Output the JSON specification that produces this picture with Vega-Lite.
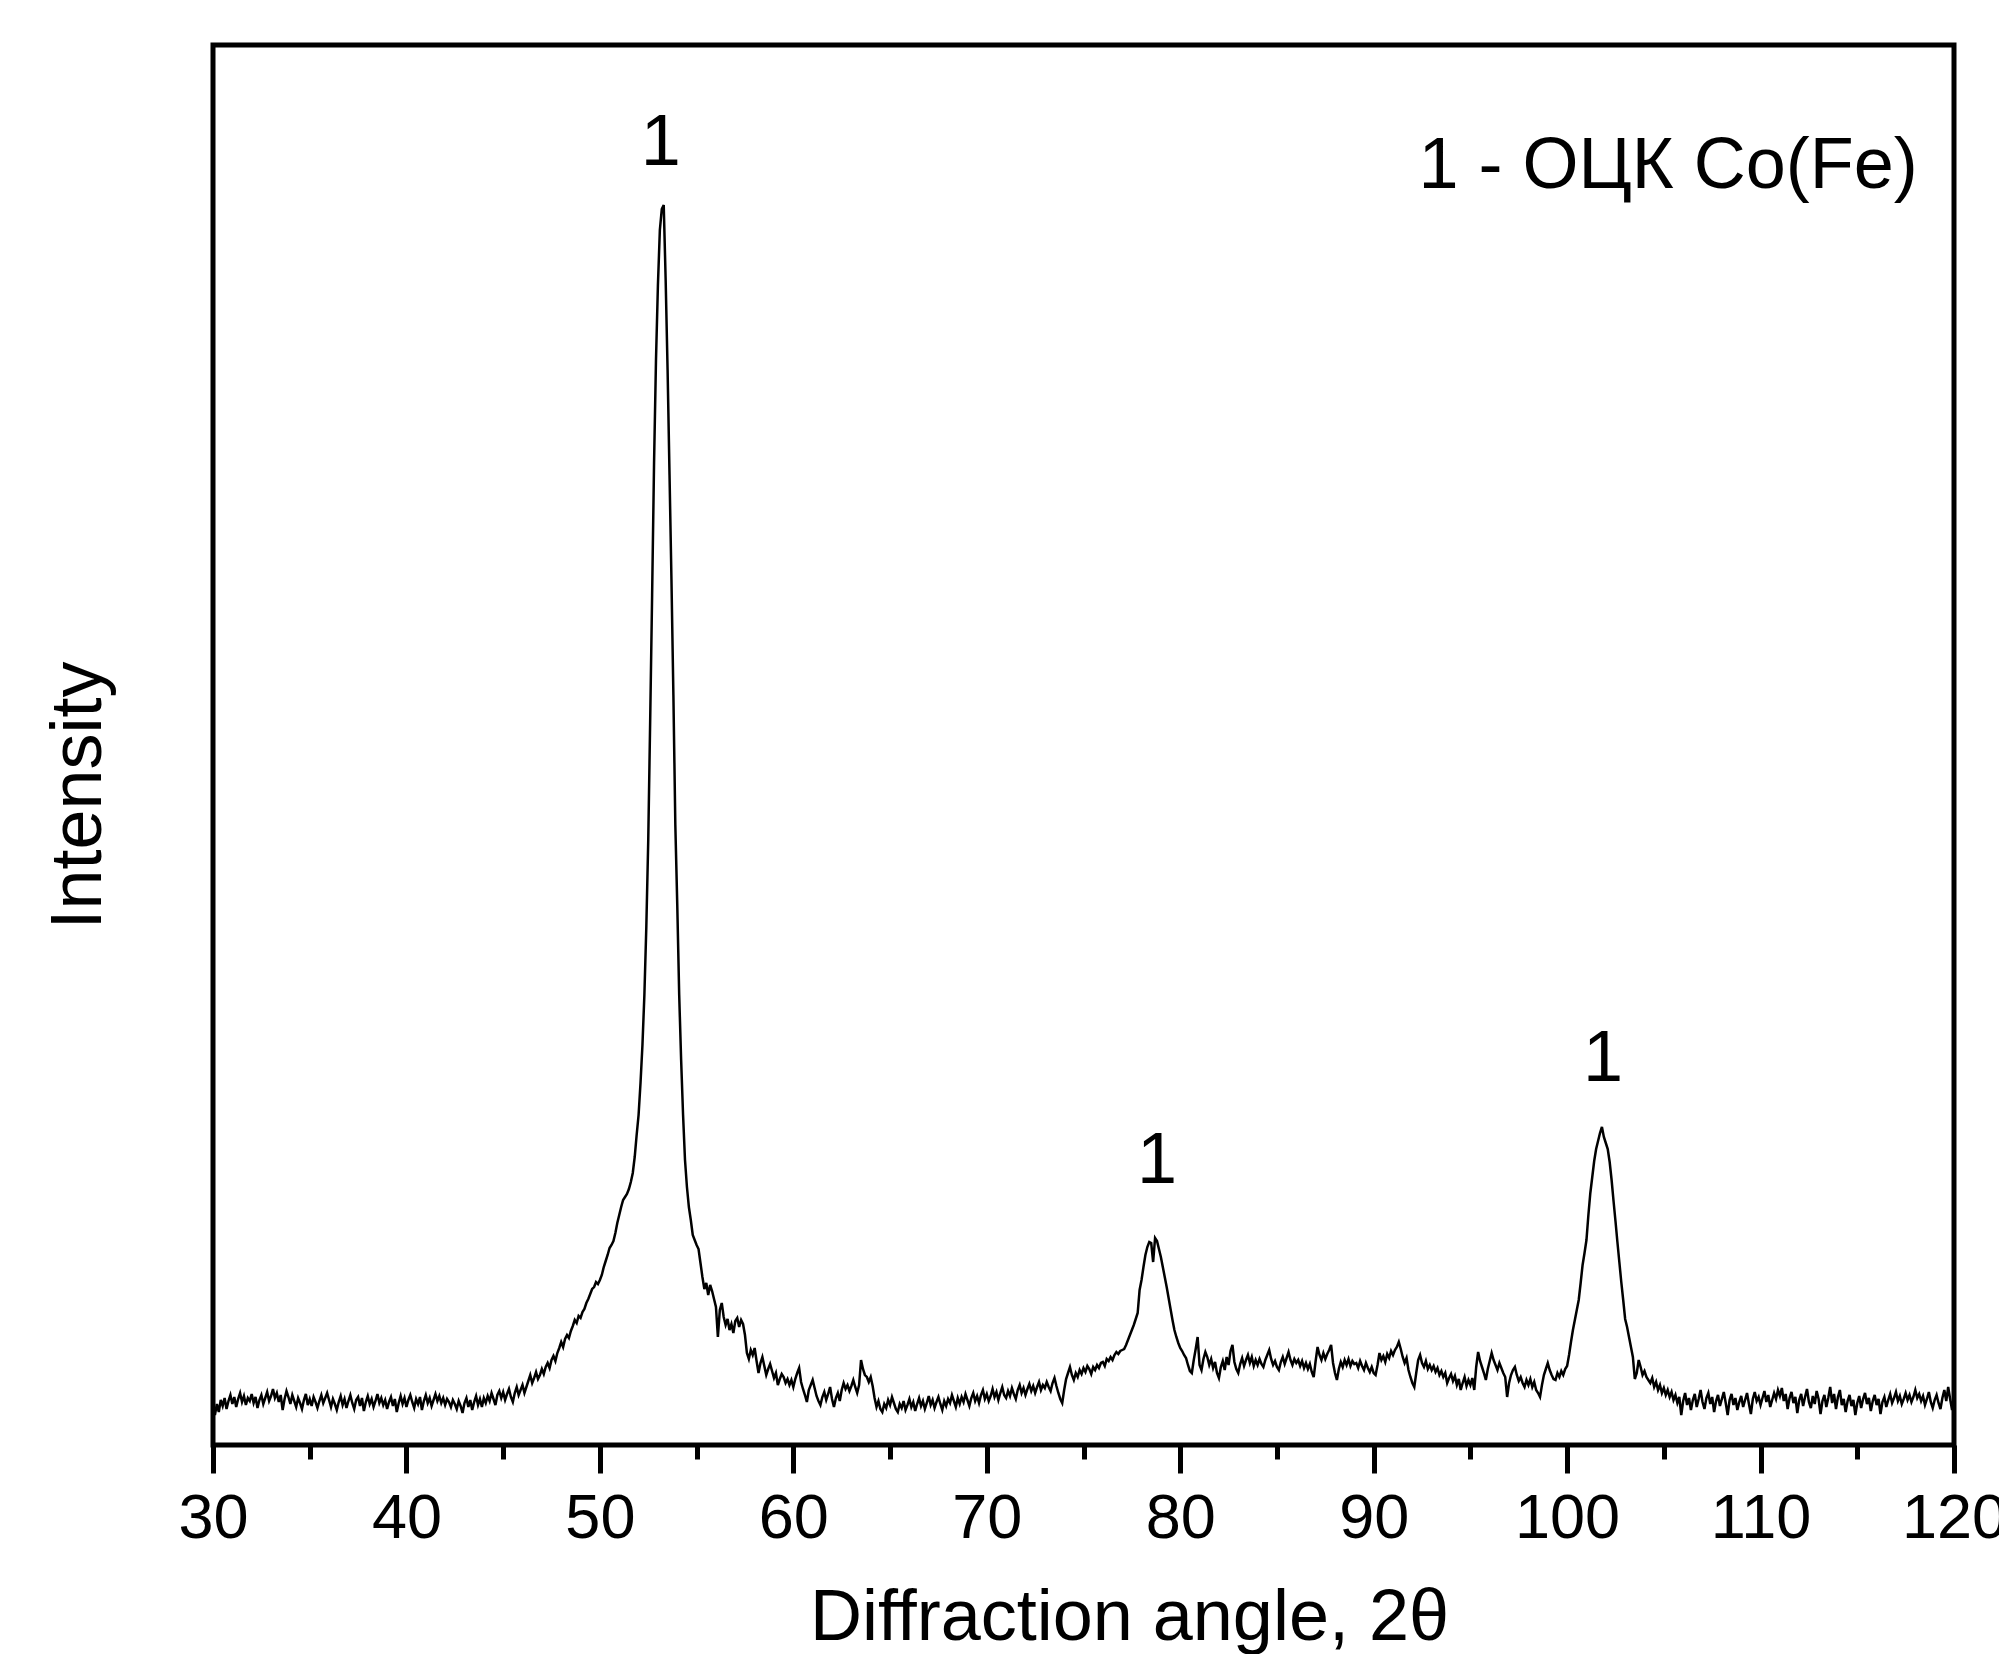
{
"$schema":"https://vega.github.io/schema/vega-lite/v6.json",
"width":1741,"height":1400,
"autosize":{"type":"none"},
"padding":{"left":213,"top":45,"right":45,"bottom":209},
"background":"white",
"config":{"view":{"stroke":"black","strokeWidth":5},"font":"Liberation Sans"},
"datasets":{
"pattern":[
{"angle":30.0,"intensity":37},{"angle":30.1,"intensity":30},{"angle":30.2,"intensity":41},{"angle":30.3,"intensity":33},{"angle":30.4,"intensity":45},{"angle":30.5,"intensity":39},{"angle":30.6,"intensity":47},{"angle":30.7,"intensity":36},{"angle":30.8,"intensity":44},{"angle":30.9,"intensity":50},
{"angle":31.0,"intensity":41},{"angle":31.1,"intensity":48},{"angle":31.2,"intensity":38},{"angle":31.3,"intensity":46},{"angle":31.4,"intensity":52},{"angle":31.5,"intensity":43},{"angle":31.6,"intensity":49},{"angle":31.7,"intensity":40},{"angle":31.8,"intensity":47},{"angle":31.9,"intensity":44},
{"angle":32.0,"intensity":51},{"angle":32.1,"intensity":42},{"angle":32.2,"intensity":48},{"angle":32.3,"intensity":37},{"angle":32.4,"intensity":45},{"angle":32.5,"intensity":50},{"angle":32.6,"intensity":41},{"angle":32.7,"intensity":47},{"angle":32.8,"intensity":53},{"angle":32.9,"intensity":44},
{"angle":33.0,"intensity":49},{"angle":33.1,"intensity":56},{"angle":33.2,"intensity":47},{"angle":33.3,"intensity":52},{"angle":33.4,"intensity":43},{"angle":33.5,"intensity":50},{"angle":33.6,"intensity":35},{"angle":33.7,"intensity":46},{"angle":33.8,"intensity":54},{"angle":33.9,"intensity":48},
{"angle":34.0,"intensity":41},{"angle":34.1,"intensity":50},{"angle":34.2,"intensity":44},{"angle":34.3,"intensity":38},{"angle":34.4,"intensity":47},{"angle":34.5,"intensity":42},{"angle":34.6,"intensity":36},{"angle":34.7,"intensity":45},{"angle":34.8,"intensity":51},{"angle":34.9,"intensity":40},
{"angle":35.0,"intensity":46},{"angle":35.1,"intensity":39},{"angle":35.2,"intensity":48},{"angle":35.3,"intensity":43},{"angle":35.4,"intensity":37},{"angle":35.5,"intensity":44},{"angle":35.6,"intensity":50},{"angle":35.7,"intensity":42},{"angle":35.8,"intensity":47},{"angle":35.9,"intensity":52},
{"angle":36.0,"intensity":45},{"angle":36.1,"intensity":38},{"angle":36.2,"intensity":46},{"angle":36.3,"intensity":41},{"angle":36.4,"intensity":35},{"angle":36.5,"intensity":43},{"angle":36.6,"intensity":49},{"angle":36.7,"intensity":40},{"angle":36.8,"intensity":46},{"angle":36.9,"intensity":37},
{"angle":37.0,"intensity":44},{"angle":37.1,"intensity":50},{"angle":37.2,"intensity":42},{"angle":37.3,"intensity":36},{"angle":37.4,"intensity":45},{"angle":37.5,"intensity":48},{"angle":37.6,"intensity":39},{"angle":37.7,"intensity":47},{"angle":37.8,"intensity":34},{"angle":37.9,"intensity":43},
{"angle":38.0,"intensity":49},{"angle":38.1,"intensity":41},{"angle":38.2,"intensity":46},{"angle":38.3,"intensity":38},{"angle":38.4,"intensity":44},{"angle":38.5,"intensity":51},{"angle":38.6,"intensity":42},{"angle":38.7,"intensity":47},{"angle":38.8,"intensity":40},{"angle":38.9,"intensity":45},
{"angle":39.0,"intensity":36},{"angle":39.1,"intensity":43},{"angle":39.2,"intensity":48},{"angle":39.3,"intensity":39},{"angle":39.4,"intensity":46},{"angle":39.5,"intensity":33},{"angle":39.6,"intensity":42},{"angle":39.7,"intensity":49},{"angle":39.8,"intensity":41},{"angle":39.9,"intensity":47},
{"angle":40.0,"intensity":38},{"angle":40.1,"intensity":45},{"angle":40.2,"intensity":50},{"angle":40.3,"intensity":43},{"angle":40.4,"intensity":37},{"angle":40.5,"intensity":46},{"angle":40.6,"intensity":41},{"angle":40.7,"intensity":48},{"angle":40.8,"intensity":35},{"angle":40.9,"intensity":44},
{"angle":41.0,"intensity":50},{"angle":41.1,"intensity":42},{"angle":41.2,"intensity":47},{"angle":41.3,"intensity":39},{"angle":41.4,"intensity":45},{"angle":41.5,"intensity":51},{"angle":41.6,"intensity":44},{"angle":41.7,"intensity":49},{"angle":41.8,"intensity":42},{"angle":41.9,"intensity":47},
{"angle":42.0,"intensity":40},{"angle":42.1,"intensity":46},{"angle":42.2,"intensity":43},{"angle":42.3,"intensity":38},{"angle":42.4,"intensity":45},{"angle":42.5,"intensity":41},{"angle":42.6,"intensity":36},{"angle":42.7,"intensity":44},{"angle":42.8,"intensity":39},{"angle":42.9,"intensity":32},
{"angle":43.0,"intensity":42},{"angle":43.1,"intensity":47},{"angle":43.2,"intensity":38},{"angle":43.3,"intensity":45},{"angle":43.4,"intensity":35},{"angle":43.5,"intensity":43},{"angle":43.6,"intensity":49},{"angle":43.7,"intensity":40},{"angle":43.8,"intensity":46},{"angle":43.9,"intensity":38},
{"angle":44.0,"intensity":47},{"angle":44.1,"intensity":42},{"angle":44.2,"intensity":49},{"angle":44.3,"intensity":44},{"angle":44.4,"intensity":52},{"angle":44.5,"intensity":46},{"angle":44.6,"intensity":40},{"angle":44.7,"intensity":50},{"angle":44.8,"intensity":54},{"angle":44.9,"intensity":47},
{"angle":45.0,"intensity":53},{"angle":45.1,"intensity":45},{"angle":45.2,"intensity":51},{"angle":45.3,"intensity":56},{"angle":45.4,"intensity":48},{"angle":45.5,"intensity":43},{"angle":45.6,"intensity":52},{"angle":45.7,"intensity":58},{"angle":45.8,"intensity":50},{"angle":45.9,"intensity":55},
{"angle":46.0,"intensity":60},{"angle":46.1,"intensity":52},{"angle":46.2,"intensity":58},{"angle":46.3,"intensity":64},{"angle":46.4,"intensity":70},{"angle":46.5,"intensity":62},{"angle":46.6,"intensity":67},{"angle":46.7,"intensity":73},{"angle":46.8,"intensity":66},{"angle":46.9,"intensity":70},
{"angle":47.0,"intensity":76},{"angle":47.1,"intensity":71},{"angle":47.2,"intensity":78},{"angle":47.3,"intensity":82},{"angle":47.4,"intensity":77},{"angle":47.5,"intensity":85},{"angle":47.6,"intensity":89},{"angle":47.7,"intensity":84},{"angle":47.8,"intensity":92},{"angle":47.9,"intensity":97},
{"angle":48.0,"intensity":103},{"angle":48.1,"intensity":98},{"angle":48.2,"intensity":106},{"angle":48.3,"intensity":110},{"angle":48.4,"intensity":107},{"angle":48.5,"intensity":114},{"angle":48.6,"intensity":119},{"angle":48.7,"intensity":125},{"angle":48.8,"intensity":122},{"angle":48.9,"intensity":129},
{"angle":49.0,"intensity":127},{"angle":49.1,"intensity":133},{"angle":49.2,"intensity":136},{"angle":49.3,"intensity":142},{"angle":49.4,"intensity":146},{"angle":49.5,"intensity":151},{"angle":49.6,"intensity":156},{"angle":49.7,"intensity":158},{"angle":49.8,"intensity":163},{"angle":49.9,"intensity":161},
{"angle":50.0,"intensity":165},{"angle":50.1,"intensity":170},{"angle":50.2,"intensity":178},{"angle":50.3,"intensity":184},{"angle":50.4,"intensity":190},{"angle":50.5,"intensity":197},{"angle":50.6,"intensity":200},{"angle":50.7,"intensity":204},{"angle":50.8,"intensity":212},{"angle":50.9,"intensity":222},
{"angle":51.0,"intensity":230},{"angle":51.1,"intensity":238},{"angle":51.2,"intensity":245},{"angle":51.3,"intensity":248},{"angle":51.4,"intensity":251},{"angle":51.5,"intensity":256},{"angle":51.6,"intensity":263},{"angle":51.7,"intensity":272},{"angle":51.8,"intensity":288},{"angle":51.9,"intensity":310},
{"angle":52.0,"intensity":330},{"angle":52.1,"intensity":362},{"angle":52.2,"intensity":400},{"angle":52.3,"intensity":450},{"angle":52.4,"intensity":518},{"angle":52.5,"intensity":605},{"angle":52.6,"intensity":725},{"angle":52.7,"intensity":850},{"angle":52.8,"intensity":982},{"angle":52.9,"intensity":1085},
{"angle":53.0,"intensity":1160},{"angle":53.1,"intensity":1215},{"angle":53.2,"intensity":1236},{"angle":53.3,"intensity":1240},{"angle":53.4,"intensity":1165},{"angle":53.5,"intensity":1075},{"angle":53.6,"intensity":970},{"angle":53.7,"intensity":865},{"angle":53.8,"intensity":750},{"angle":53.9,"intensity":620},
{"angle":54.0,"intensity":540},{"angle":54.1,"intensity":450},{"angle":54.2,"intensity":385},{"angle":54.3,"intensity":330},{"angle":54.4,"intensity":285},{"angle":54.5,"intensity":258},{"angle":54.6,"intensity":238},{"angle":54.7,"intensity":225},{"angle":54.8,"intensity":210},{"angle":54.9,"intensity":205},
{"angle":55.0,"intensity":200},{"angle":55.1,"intensity":196},{"angle":55.2,"intensity":182},{"angle":55.3,"intensity":168},{"angle":55.4,"intensity":156},{"angle":55.5,"intensity":162},{"angle":55.6,"intensity":150},{"angle":55.7,"intensity":160},{"angle":55.8,"intensity":154},{"angle":55.9,"intensity":146},
{"angle":56.0,"intensity":138},{"angle":56.1,"intensity":108},{"angle":56.2,"intensity":135},{"angle":56.3,"intensity":142},{"angle":56.4,"intensity":128},{"angle":56.5,"intensity":120},{"angle":56.6,"intensity":126},{"angle":56.7,"intensity":115},{"angle":56.8,"intensity":121},{"angle":56.9,"intensity":112},
{"angle":57.0,"intensity":124},{"angle":57.1,"intensity":127},{"angle":57.2,"intensity":118},{"angle":57.3,"intensity":125},{"angle":57.4,"intensity":121},{"angle":57.5,"intensity":110},{"angle":57.6,"intensity":92},{"angle":57.7,"intensity":86},{"angle":57.8,"intensity":95},{"angle":57.9,"intensity":90},
{"angle":58.0,"intensity":97},{"angle":58.1,"intensity":84},{"angle":58.2,"intensity":72},{"angle":58.3,"intensity":82},{"angle":58.4,"intensity":88},{"angle":58.5,"intensity":79},{"angle":58.6,"intensity":70},{"angle":58.7,"intensity":76},{"angle":58.8,"intensity":81},{"angle":58.9,"intensity":74},
{"angle":59.0,"intensity":67},{"angle":59.1,"intensity":72},{"angle":59.2,"intensity":60},{"angle":59.3,"intensity":66},{"angle":59.4,"intensity":71},{"angle":59.5,"intensity":68},{"angle":59.6,"intensity":62},{"angle":59.7,"intensity":66},{"angle":59.8,"intensity":60},{"angle":59.9,"intensity":65},
{"angle":60.0,"intensity":58},{"angle":60.1,"intensity":66},{"angle":60.2,"intensity":72},{"angle":60.3,"intensity":77},{"angle":60.4,"intensity":63},{"angle":60.5,"intensity":56},{"angle":60.6,"intensity":50},{"angle":60.7,"intensity":43},{"angle":60.8,"intensity":55},{"angle":60.9,"intensity":60},
{"angle":61.0,"intensity":65},{"angle":61.1,"intensity":57},{"angle":61.2,"intensity":49},{"angle":61.3,"intensity":44},{"angle":61.4,"intensity":40},{"angle":61.5,"intensity":48},{"angle":61.6,"intensity":53},{"angle":61.7,"intensity":45},{"angle":61.8,"intensity":51},{"angle":61.9,"intensity":58},
{"angle":62.0,"intensity":46},{"angle":62.1,"intensity":38},{"angle":62.2,"intensity":47},{"angle":62.3,"intensity":52},{"angle":62.4,"intensity":44},{"angle":62.5,"intensity":55},{"angle":62.6,"intensity":62},{"angle":62.7,"intensity":56},{"angle":62.8,"intensity":60},{"angle":62.9,"intensity":54},
{"angle":63.0,"intensity":59},{"angle":63.1,"intensity":65},{"angle":63.2,"intensity":58},{"angle":63.3,"intensity":52},{"angle":63.4,"intensity":60},{"angle":63.5,"intensity":85},{"angle":63.6,"intensity":76},{"angle":63.7,"intensity":70},{"angle":63.8,"intensity":68},{"angle":63.9,"intensity":63},
{"angle":64.0,"intensity":68},{"angle":64.1,"intensity":59},{"angle":64.2,"intensity":47},{"angle":64.3,"intensity":38},{"angle":64.4,"intensity":44},{"angle":64.5,"intensity":36},{"angle":64.6,"intensity":33},{"angle":64.7,"intensity":41},{"angle":64.8,"intensity":37},{"angle":64.9,"intensity":45},
{"angle":65.0,"intensity":40},{"angle":65.1,"intensity":48},{"angle":65.2,"intensity":42},{"angle":65.3,"intensity":36},{"angle":65.4,"intensity":33},{"angle":65.5,"intensity":41},{"angle":65.6,"intensity":37},{"angle":65.7,"intensity":44},{"angle":65.8,"intensity":35},{"angle":65.9,"intensity":40},
{"angle":66.0,"intensity":46},{"angle":66.1,"intensity":38},{"angle":66.2,"intensity":43},{"angle":66.3,"intensity":34},{"angle":66.4,"intensity":41},{"angle":66.5,"intensity":47},{"angle":66.6,"intensity":39},{"angle":66.7,"intensity":44},{"angle":66.8,"intensity":36},{"angle":66.9,"intensity":42},
{"angle":67.0,"intensity":49},{"angle":67.1,"intensity":40},{"angle":67.2,"intensity":45},{"angle":67.3,"intensity":37},{"angle":67.4,"intensity":43},{"angle":67.5,"intensity":48},{"angle":67.6,"intensity":41},{"angle":67.7,"intensity":35},{"angle":67.8,"intensity":44},{"angle":67.9,"intensity":39},
{"angle":68.0,"intensity":46},{"angle":68.1,"intensity":42},{"angle":68.2,"intensity":50},{"angle":68.3,"intensity":44},{"angle":68.4,"intensity":38},{"angle":68.5,"intensity":47},{"angle":68.6,"intensity":41},{"angle":68.7,"intensity":48},{"angle":68.8,"intensity":43},{"angle":68.9,"intensity":51},
{"angle":69.0,"intensity":45},{"angle":69.1,"intensity":39},{"angle":69.2,"intensity":47},{"angle":69.3,"intensity":52},{"angle":69.4,"intensity":44},{"angle":69.5,"intensity":49},{"angle":69.6,"intensity":42},{"angle":69.7,"intensity":50},{"angle":69.8,"intensity":55},{"angle":69.9,"intensity":46},
{"angle":70.0,"intensity":51},{"angle":70.1,"intensity":44},{"angle":70.2,"intensity":49},{"angle":70.3,"intensity":56},{"angle":70.4,"intensity":48},{"angle":70.5,"intensity":53},{"angle":70.6,"intensity":45},{"angle":70.7,"intensity":52},{"angle":70.8,"intensity":58},{"angle":70.9,"intensity":50},
{"angle":71.0,"intensity":47},{"angle":71.1,"intensity":54},{"angle":71.2,"intensity":49},{"angle":71.3,"intensity":57},{"angle":71.4,"intensity":51},{"angle":71.5,"intensity":46},{"angle":71.6,"intensity":55},{"angle":71.7,"intensity":60},{"angle":71.8,"intensity":52},{"angle":71.9,"intensity":57},
{"angle":72.0,"intensity":50},{"angle":72.1,"intensity":56},{"angle":72.2,"intensity":61},{"angle":72.3,"intensity":54},{"angle":72.4,"intensity":59},{"angle":72.5,"intensity":52},{"angle":72.6,"intensity":58},{"angle":72.7,"intensity":63},{"angle":72.8,"intensity":55},{"angle":72.9,"intensity":60},
{"angle":73.0,"intensity":57},{"angle":73.1,"intensity":63},{"angle":73.2,"intensity":58},{"angle":73.3,"intensity":54},{"angle":73.4,"intensity":62},{"angle":73.5,"intensity":67},{"angle":73.6,"intensity":59},{"angle":73.7,"intensity":52},{"angle":73.8,"intensity":46},{"angle":73.9,"intensity":42},
{"angle":74.0,"intensity":55},{"angle":74.1,"intensity":66},{"angle":74.2,"intensity":72},{"angle":74.3,"intensity":78},{"angle":74.4,"intensity":70},{"angle":74.5,"intensity":65},{"angle":74.6,"intensity":72},{"angle":74.7,"intensity":68},{"angle":74.8,"intensity":75},{"angle":74.9,"intensity":71},
{"angle":75.0,"intensity":77},{"angle":75.1,"intensity":73},{"angle":75.2,"intensity":79},{"angle":75.3,"intensity":76},{"angle":75.4,"intensity":71},{"angle":75.5,"intensity":78},{"angle":75.6,"intensity":75},{"angle":75.7,"intensity":80},{"angle":75.8,"intensity":77},{"angle":75.9,"intensity":82},
{"angle":76.0,"intensity":83},{"angle":76.1,"intensity":79},{"angle":76.2,"intensity":86},{"angle":76.3,"intensity":84},{"angle":76.4,"intensity":88},{"angle":76.5,"intensity":85},{"angle":76.6,"intensity":90},{"angle":76.7,"intensity":93},{"angle":76.8,"intensity":91},{"angle":76.9,"intensity":94},
{"angle":77.0,"intensity":95},{"angle":77.1,"intensity":96},{"angle":77.2,"intensity":100},{"angle":77.3,"intensity":105},{"angle":77.4,"intensity":110},{"angle":77.5,"intensity":115},{"angle":77.6,"intensity":120},{"angle":77.7,"intensity":126},{"angle":77.8,"intensity":132},{"angle":77.9,"intensity":155},
{"angle":78.0,"intensity":165},{"angle":78.1,"intensity":178},{"angle":78.2,"intensity":190},{"angle":78.3,"intensity":198},{"angle":78.4,"intensity":203},{"angle":78.5,"intensity":202},{"angle":78.6,"intensity":183},{"angle":78.7,"intensity":207},{"angle":78.8,"intensity":204},{"angle":78.9,"intensity":196},
{"angle":79.0,"intensity":188},{"angle":79.1,"intensity":178},{"angle":79.2,"intensity":168},{"angle":79.3,"intensity":158},{"angle":79.4,"intensity":147},{"angle":79.5,"intensity":136},{"angle":79.6,"intensity":125},{"angle":79.7,"intensity":115},{"angle":79.8,"intensity":108},{"angle":79.9,"intensity":102},
{"angle":80.0,"intensity":97},{"angle":80.1,"intensity":94},{"angle":80.2,"intensity":90},{"angle":80.3,"intensity":87},{"angle":80.4,"intensity":80},{"angle":80.5,"intensity":74},{"angle":80.6,"intensity":72},{"angle":80.7,"intensity":85},{"angle":80.8,"intensity":96},{"angle":80.9,"intensity":108},
{"angle":81.0,"intensity":80},{"angle":81.1,"intensity":75},{"angle":81.2,"intensity":86},{"angle":81.3,"intensity":93},{"angle":81.4,"intensity":88},{"angle":81.5,"intensity":80},{"angle":81.6,"intensity":86},{"angle":81.7,"intensity":77},{"angle":81.8,"intensity":83},{"angle":81.9,"intensity":72},
{"angle":82.0,"intensity":67},{"angle":82.1,"intensity":78},{"angle":82.2,"intensity":84},{"angle":82.3,"intensity":75},{"angle":82.4,"intensity":88},{"angle":82.5,"intensity":80},{"angle":82.6,"intensity":94},{"angle":82.7,"intensity":100},{"angle":82.8,"intensity":83},{"angle":82.9,"intensity":76},
{"angle":83.0,"intensity":72},{"angle":83.1,"intensity":81},{"angle":83.2,"intensity":87},{"angle":83.3,"intensity":79},{"angle":83.4,"intensity":85},{"angle":83.5,"intensity":90},{"angle":83.6,"intensity":82},{"angle":83.7,"intensity":88},{"angle":83.8,"intensity":79},{"angle":83.9,"intensity":85},
{"angle":84.0,"intensity":80},{"angle":84.1,"intensity":86},{"angle":84.2,"intensity":81},{"angle":84.3,"intensity":78},{"angle":84.4,"intensity":85},{"angle":84.5,"intensity":90},{"angle":84.6,"intensity":95},{"angle":84.7,"intensity":86},{"angle":84.8,"intensity":80},{"angle":84.9,"intensity":84},
{"angle":85.0,"intensity":78},{"angle":85.1,"intensity":75},{"angle":85.2,"intensity":83},{"angle":85.3,"intensity":88},{"angle":85.4,"intensity":81},{"angle":85.5,"intensity":87},{"angle":85.6,"intensity":93},{"angle":85.7,"intensity":85},{"angle":85.8,"intensity":80},{"angle":85.9,"intensity":86},
{"angle":86.0,"intensity":82},{"angle":86.1,"intensity":85},{"angle":86.2,"intensity":79},{"angle":86.3,"intensity":84},{"angle":86.4,"intensity":77},{"angle":86.5,"intensity":82},{"angle":86.6,"intensity":76},{"angle":86.7,"intensity":81},{"angle":86.8,"intensity":73},{"angle":86.9,"intensity":68},
{"angle":87.0,"intensity":84},{"angle":87.1,"intensity":98},{"angle":87.2,"intensity":90},{"angle":87.3,"intensity":85},{"angle":87.4,"intensity":92},{"angle":87.5,"intensity":86},{"angle":87.6,"intensity":91},{"angle":87.7,"intensity":95},{"angle":87.8,"intensity":100},{"angle":87.9,"intensity":82},
{"angle":88.0,"intensity":72},{"angle":88.1,"intensity":65},{"angle":88.2,"intensity":76},{"angle":88.3,"intensity":83},{"angle":88.4,"intensity":78},{"angle":88.5,"intensity":85},{"angle":88.6,"intensity":80},{"angle":88.7,"intensity":86},{"angle":88.8,"intensity":79},{"angle":88.9,"intensity":84},
{"angle":89.0,"intensity":81},{"angle":89.1,"intensity":82},{"angle":89.2,"intensity":77},{"angle":89.3,"intensity":84},{"angle":89.4,"intensity":79},{"angle":89.5,"intensity":75},{"angle":89.6,"intensity":82},{"angle":89.7,"intensity":77},{"angle":89.8,"intensity":73},{"angle":89.9,"intensity":78},
{"angle":90.0,"intensity":72},{"angle":90.1,"intensity":70},{"angle":90.2,"intensity":80},{"angle":90.3,"intensity":92},{"angle":90.4,"intensity":85},{"angle":90.5,"intensity":89},{"angle":90.6,"intensity":83},{"angle":90.7,"intensity":91},{"angle":90.8,"intensity":87},{"angle":90.9,"intensity":94},
{"angle":91.0,"intensity":90},{"angle":91.1,"intensity":95},{"angle":91.2,"intensity":98},{"angle":91.3,"intensity":103},{"angle":91.4,"intensity":96},{"angle":91.5,"intensity":88},{"angle":91.6,"intensity":82},{"angle":91.7,"intensity":87},{"angle":91.8,"intensity":75},{"angle":91.9,"intensity":68},
{"angle":92.0,"intensity":62},{"angle":92.1,"intensity":58},{"angle":92.2,"intensity":72},{"angle":92.3,"intensity":85},{"angle":92.4,"intensity":90},{"angle":92.5,"intensity":82},{"angle":92.6,"intensity":78},{"angle":92.7,"intensity":84},{"angle":92.8,"intensity":76},{"angle":92.9,"intensity":80},
{"angle":93.0,"intensity":75},{"angle":93.1,"intensity":79},{"angle":93.2,"intensity":73},{"angle":93.3,"intensity":77},{"angle":93.4,"intensity":70},{"angle":93.5,"intensity":74},{"angle":93.6,"intensity":68},{"angle":93.7,"intensity":72},{"angle":93.8,"intensity":62},{"angle":93.9,"intensity":67},
{"angle":94.0,"intensity":71},{"angle":94.1,"intensity":64},{"angle":94.2,"intensity":69},{"angle":94.3,"intensity":60},{"angle":94.4,"intensity":66},{"angle":94.5,"intensity":55},{"angle":94.6,"intensity":62},{"angle":94.7,"intensity":68},{"angle":94.8,"intensity":59},{"angle":94.9,"intensity":65},
{"angle":95.0,"intensity":60},{"angle":95.1,"intensity":67},{"angle":95.2,"intensity":55},{"angle":95.3,"intensity":78},{"angle":95.4,"intensity":93},{"angle":95.5,"intensity":84},{"angle":95.6,"intensity":78},{"angle":95.7,"intensity":72},{"angle":95.8,"intensity":65},{"angle":95.9,"intensity":76},
{"angle":96.0,"intensity":84},{"angle":96.1,"intensity":92},{"angle":96.2,"intensity":85},{"angle":96.3,"intensity":80},{"angle":96.4,"intensity":75},{"angle":96.5,"intensity":82},{"angle":96.6,"intensity":77},{"angle":96.7,"intensity":72},{"angle":96.8,"intensity":68},{"angle":96.9,"intensity":48},
{"angle":97.0,"intensity":62},{"angle":97.1,"intensity":70},{"angle":97.2,"intensity":75},{"angle":97.3,"intensity":78},{"angle":97.4,"intensity":70},{"angle":97.5,"intensity":64},{"angle":97.6,"intensity":68},{"angle":97.7,"intensity":62},{"angle":97.8,"intensity":58},{"angle":97.9,"intensity":65},
{"angle":98.0,"intensity":60},{"angle":98.1,"intensity":66},{"angle":98.2,"intensity":58},{"angle":98.3,"intensity":63},{"angle":98.4,"intensity":55},{"angle":98.5,"intensity":52},{"angle":98.6,"intensity":48},{"angle":98.7,"intensity":60},{"angle":98.8,"intensity":70},{"angle":98.9,"intensity":76},
{"angle":99.0,"intensity":82},{"angle":99.1,"intensity":75},{"angle":99.2,"intensity":70},{"angle":99.3,"intensity":66},{"angle":99.4,"intensity":65},{"angle":99.5,"intensity":72},{"angle":99.6,"intensity":68},{"angle":99.7,"intensity":74},{"angle":99.8,"intensity":70},{"angle":99.9,"intensity":76},
{"angle":100.0,"intensity":79},{"angle":100.1,"intensity":90},{"angle":100.2,"intensity":103},{"angle":100.3,"intensity":115},{"angle":100.4,"intensity":125},{"angle":100.5,"intensity":135},{"angle":100.6,"intensity":145},{"angle":100.7,"intensity":162},{"angle":100.8,"intensity":180},{"angle":100.9,"intensity":192},
{"angle":101.0,"intensity":205},{"angle":101.1,"intensity":230},{"angle":101.2,"intensity":252},{"angle":101.3,"intensity":268},{"angle":101.4,"intensity":284},{"angle":101.5,"intensity":296},{"angle":101.6,"intensity":304},{"angle":101.7,"intensity":312},{"angle":101.8,"intensity":318},{"angle":101.9,"intensity":308},
{"angle":102.0,"intensity":302},{"angle":102.1,"intensity":296},{"angle":102.2,"intensity":283},{"angle":102.3,"intensity":265},{"angle":102.4,"intensity":244},{"angle":102.5,"intensity":224},{"angle":102.6,"intensity":203},{"angle":102.7,"intensity":183},{"angle":102.8,"intensity":163},{"angle":102.9,"intensity":145},
{"angle":103.0,"intensity":126},{"angle":103.1,"intensity":118},{"angle":103.2,"intensity":108},{"angle":103.3,"intensity":98},{"angle":103.4,"intensity":88},{"angle":103.5,"intensity":66},{"angle":103.6,"intensity":72},{"angle":103.7,"intensity":85},{"angle":103.8,"intensity":78},{"angle":103.9,"intensity":70},
{"angle":104.0,"intensity":74},{"angle":104.1,"intensity":68},{"angle":104.2,"intensity":65},{"angle":104.3,"intensity":62},{"angle":104.4,"intensity":67},{"angle":104.5,"intensity":58},{"angle":104.6,"intensity":63},{"angle":104.7,"intensity":55},{"angle":104.8,"intensity":60},{"angle":104.9,"intensity":52},
{"angle":105.0,"intensity":57},{"angle":105.1,"intensity":50},{"angle":105.2,"intensity":55},{"angle":105.3,"intensity":48},{"angle":105.4,"intensity":53},{"angle":105.5,"intensity":45},{"angle":105.6,"intensity":50},{"angle":105.7,"intensity":42},{"angle":105.8,"intensity":48},{"angle":105.9,"intensity":30},
{"angle":106.0,"intensity":44},{"angle":106.1,"intensity":52},{"angle":106.2,"intensity":40},{"angle":106.3,"intensity":47},{"angle":106.4,"intensity":35},{"angle":106.5,"intensity":45},{"angle":106.6,"intensity":51},{"angle":106.7,"intensity":38},{"angle":106.8,"intensity":46},{"angle":106.9,"intensity":55},
{"angle":107.0,"intensity":43},{"angle":107.1,"intensity":36},{"angle":107.2,"intensity":47},{"angle":107.3,"intensity":52},{"angle":107.4,"intensity":41},{"angle":107.5,"intensity":48},{"angle":107.6,"intensity":33},{"angle":107.7,"intensity":44},{"angle":107.8,"intensity":50},{"angle":107.9,"intensity":39},
{"angle":108.0,"intensity":46},{"angle":108.1,"intensity":53},{"angle":108.2,"intensity":42},{"angle":108.3,"intensity":30},{"angle":108.4,"intensity":45},{"angle":108.5,"intensity":51},{"angle":108.6,"intensity":40},{"angle":108.7,"intensity":47},{"angle":108.8,"intensity":35},{"angle":108.9,"intensity":43},
{"angle":109.0,"intensity":49},{"angle":109.1,"intensity":38},{"angle":109.2,"intensity":45},{"angle":109.3,"intensity":52},{"angle":109.4,"intensity":41},{"angle":109.5,"intensity":31},{"angle":109.6,"intensity":46},{"angle":109.7,"intensity":53},{"angle":109.8,"intensity":44},{"angle":109.9,"intensity":48},
{"angle":110.0,"intensity":40},{"angle":110.1,"intensity":47},{"angle":110.2,"intensity":54},{"angle":110.3,"intensity":43},{"angle":110.4,"intensity":50},{"angle":110.5,"intensity":38},{"angle":110.6,"intensity":45},{"angle":110.7,"intensity":52},{"angle":110.8,"intensity":46},{"angle":110.9,"intensity":55},
{"angle":111.0,"intensity":49},{"angle":111.1,"intensity":57},{"angle":111.2,"intensity":44},{"angle":111.3,"intensity":51},{"angle":111.4,"intensity":36},{"angle":111.5,"intensity":47},{"angle":111.6,"intensity":53},{"angle":111.7,"intensity":42},{"angle":111.8,"intensity":48},{"angle":111.9,"intensity":32},
{"angle":112.0,"intensity":45},{"angle":112.1,"intensity":51},{"angle":112.2,"intensity":39},{"angle":112.3,"intensity":48},{"angle":112.4,"intensity":56},{"angle":112.5,"intensity":43},{"angle":112.6,"intensity":37},{"angle":112.7,"intensity":49},{"angle":112.8,"intensity":41},{"angle":112.9,"intensity":54},
{"angle":113.0,"intensity":46},{"angle":113.1,"intensity":31},{"angle":113.2,"intensity":44},{"angle":113.3,"intensity":50},{"angle":113.4,"intensity":38},{"angle":113.5,"intensity":47},{"angle":113.6,"intensity":58},{"angle":113.7,"intensity":42},{"angle":113.8,"intensity":51},{"angle":113.9,"intensity":36},
{"angle":114.0,"intensity":48},{"angle":114.1,"intensity":55},{"angle":114.2,"intensity":40},{"angle":114.3,"intensity":46},{"angle":114.4,"intensity":33},{"angle":114.5,"intensity":44},{"angle":114.6,"intensity":50},{"angle":114.7,"intensity":39},{"angle":114.8,"intensity":45},{"angle":114.9,"intensity":30},
{"angle":115.0,"intensity":42},{"angle":115.1,"intensity":49},{"angle":115.2,"intensity":37},{"angle":115.3,"intensity":46},{"angle":115.4,"intensity":52},{"angle":115.5,"intensity":41},{"angle":115.6,"intensity":47},{"angle":115.7,"intensity":34},{"angle":115.8,"intensity":44},{"angle":115.9,"intensity":50},
{"angle":116.0,"intensity":40},{"angle":116.1,"intensity":46},{"angle":116.2,"intensity":31},{"angle":116.3,"intensity":43},{"angle":116.4,"intensity":48},{"angle":116.5,"intensity":38},{"angle":116.6,"intensity":45},{"angle":116.7,"intensity":51},{"angle":116.8,"intensity":42},{"angle":116.9,"intensity":47},
{"angle":117.0,"intensity":53},{"angle":117.1,"intensity":44},{"angle":117.2,"intensity":49},{"angle":117.3,"intensity":41},{"angle":117.4,"intensity":46},{"angle":117.5,"intensity":52},{"angle":117.6,"intensity":45},{"angle":117.7,"intensity":50},{"angle":117.8,"intensity":43},{"angle":117.9,"intensity":48},
{"angle":118.0,"intensity":55},{"angle":118.1,"intensity":47},{"angle":118.2,"intensity":51},{"angle":118.3,"intensity":44},{"angle":118.4,"intensity":49},{"angle":118.5,"intensity":40},{"angle":118.6,"intensity":46},{"angle":118.7,"intensity":53},{"angle":118.8,"intensity":43},{"angle":118.9,"intensity":37},
{"angle":119.0,"intensity":45},{"angle":119.1,"intensity":50},{"angle":119.2,"intensity":42},{"angle":119.3,"intensity":36},{"angle":119.4,"intensity":47},{"angle":119.5,"intensity":55},{"angle":119.6,"intensity":44},{"angle":119.7,"intensity":58},{"angle":119.8,"intensity":46},{"angle":119.9,"intensity":35},
{"angle":120.0,"intensity":50}
],
"peaks":[
{"angle":53.15,"intensity":1280,"label":"1"},
{"angle":78.8,"intensity":262,"label":"1"},
{"angle":101.85,"intensity":364,"label":"1"}
],
"legend":[
{"angle":118.13,"intensity":1257,"label":"1 - ОЦК Co(Fe)"}
]
},
"layer":[
{"data":{"name":"pattern"},
 "mark":{"type":"line","color":"black","strokeWidth":2.5,"clip":true},
 "encoding":{
  "x":{"field":"angle","type":"quantitative","scale":{"domain":[30,120],"nice":false,"zero":false},
   "axis":{"values":[30,35,40,45,50,55,60,65,70,75,80,85,90,95,100,105,110,115,120],
    "labelExpr":"datum.value % 10 === 0 ? datum.label : ''",
    "domain":false,"grid":false,
    "tickColor":"black","tickWidth":5,
    "tickSize":{"condition":{"test":"datum.value % 10 === 0","value":28},"value":14},
    "labelFont":"Liberation Sans","labelFontSize":63,"labelColor":"black","labelPadding":14,"labelFlush":false,"labelOverlap":false,
    "title":"Diffraction angle, 2θ","titleFont":"Liberation Sans","titleFontSize":72,"titleFontWeight":"normal","titleColor":"black",
    "titleX":916,"titleY":194,"titleBaseline":"alphabetic","titleAlign":"center","titleAnchor":null}},
  "y":{"field":"intensity","type":"quantitative","scale":{"domain":[0,1400],"nice":false,"zero":false},
   "axis":{"domain":false,"grid":false,"ticks":false,"labels":false,
    "title":"Intensity","titleFont":"Liberation Sans","titleFontSize":72,"titleFontWeight":"normal","titleColor":"black",
    "titleX":-113,"titleY":750,"titleAngle":270,"titleBaseline":"alphabetic","titleAlign":"center","titleAnchor":null}}
 }},
{"data":{"name":"peaks"},
 "mark":{"type":"text","font":"Liberation Sans","fontSize":72,"color":"black","align":"center","baseline":"alphabetic"},
 "encoding":{"x":{"field":"angle","type":"quantitative"},"y":{"field":"intensity","type":"quantitative"},"text":{"field":"label"}}},
{"data":{"name":"legend"},
 "mark":{"type":"text","font":"Liberation Sans","fontSize":72,"color":"black","align":"right","baseline":"alphabetic"},
 "encoding":{"x":{"field":"angle","type":"quantitative"},"y":{"field":"intensity","type":"quantitative"},"text":{"field":"label"}}}
]
}
